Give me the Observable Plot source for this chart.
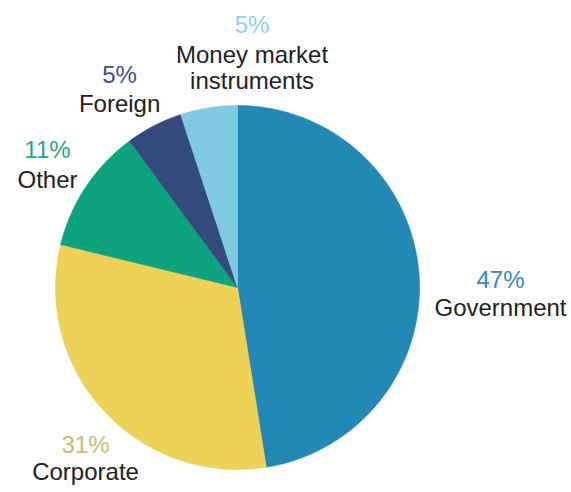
<!DOCTYPE html>
<html>
<head>
<meta charset="utf-8">
<script src="https://cdn.jsdelivr.net/npm/d3@7"></script>
<script src="https://cdn.jsdelivr.net/npm/@observablehq/plot@0.6"></script>
<style>
  html, body { margin: 0; padding: 0; background: #fff; }
</style>
</head>
<body>
<div id="chart"></div>
<script>
// ---- data ----
const categories = ["Government", "Corporate", "Other", "Foreign", "Money market\ninstruments"];
const shares = [47, 31, 11, 5, 5];
const sliceColors = ["#2388b5", "#ecd257", "#0ea37f", "#34497e", "#7fcbe3"];
const pctColors = ["#3a87b3", "#c9bb70", "#27a883", "#3f5085", "#8dd1e6"];

// ---- label layout (in pie-radius units, centre = 0,0) ----
const labelX = [1.445, -0.835, -1.044, -0.648, 0.08];
const pctY = [-0.003, -0.912, 0.709, 1.121, 1.396];
const nameY = [-0.154, -1.060, 0.549, 0.962, 1.093];

// ---- build slice polygons with d3.pie ----
const arcs = d3.pie().sort(null).value(d => d)(shares);
const slicePts = [];
arcs.forEach((a, i) => {
  const name = categories[i];
  slicePts.push({name, x: 0, y: 0});
  const n = Math.max(2, Math.ceil((a.endAngle - a.startAngle) / (Math.PI / 360)));
  for (let k = 0; k <= n; k++) {
    const t = a.startAngle + (a.endAngle - a.startAngle) * k / n;
    slicePts.push({name, x: Math.sin(t), y: Math.cos(t)});
  }
  slicePts.push({name, x: 0, y: 0});
});

const labels = categories.map((c, i) => ({
  name: c, pct: shares[i] + "%", x: labelX[i], py: pctY[i], ny: nameY[i], pc: pctColors[i]
}));

const W = 571, H = 492, cx = 237, cy = 287, R = 182;
const font = "'Liberation Sans', Arial, sans-serif";

const chart = Plot.plot({
  width: W, height: H,
  margin: 0,
  style: {background: "#fff"},
  x: {domain: [-cx / R, (W - cx) / R], range: [0, W], axis: null},
  y: {domain: [-(H - cy) / R, cy / R], range: [H, 0], axis: null},
  color: {domain: categories, range: sliceColors},
  marks: [
    Plot.line(slicePts, {x: "x", y: "y", z: "name", fill: "name", stroke: "name", strokeWidth: 0.6}),
    Plot.text(labels, {x: "x", y: "py", text: "pct", fill: d => d.pc, fontSize: 24, fontFamily: font, lineAnchor: "bottom"}),
    Plot.text(labels, {x: "x", y: "ny", text: "name", fill: "#222", fontSize: 24, fontFamily: font, lineAnchor: "bottom", lineHeight: 1.08})
  ]
});
document.getElementById("chart").appendChild(chart);
</script>
</body>
</html>
